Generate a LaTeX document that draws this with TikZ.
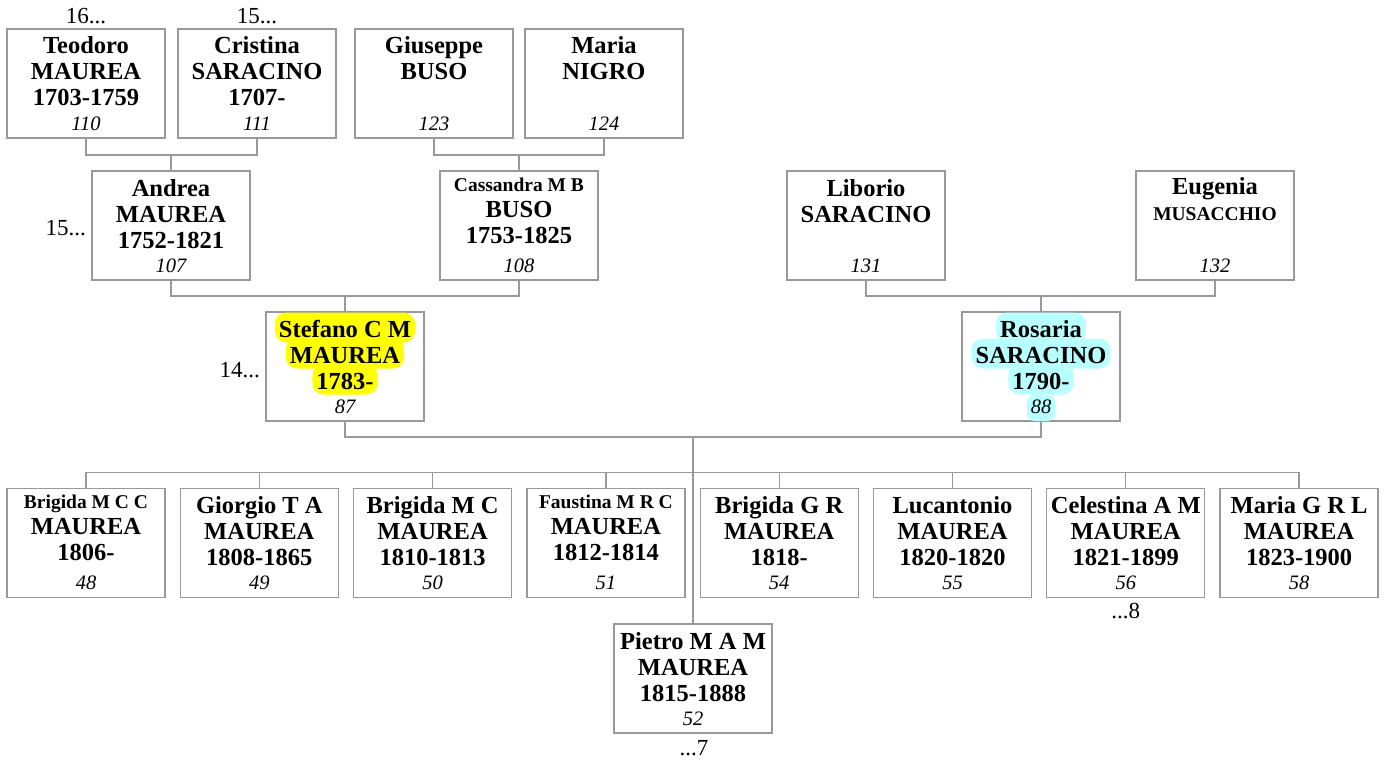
\documentclass[tikz,border=0pt]{standalone}
\usepackage{fontspec}
\setmainfont{Liberation Serif}
\definecolor{lc}{HTML}{999999}
\definecolor{hlcyan}{HTML}{B8FFFF}
\definecolor{hlyellow}{HTML}{FFFF00}
\newcommand\sm{\fontsize{19.5}{22}\selectfont\bfseries}
\newcommand\person[8]{%
  \node[pbox] (#1) at (#2,#3+54.5) {};
  \node[ln] (#1-1) at (#2,#3+25+#4) {#5};
  \node[ln] (#1-2) at (#2,#3+51+#4) {#6};
  \node[ln] (#1-3) at (#2,#3+77+#4) {#7};
  \node[num] (#1-n) at (#2,#3+101.5) {#8};
}
\begin{document}
\begin{tikzpicture}[x=1pt,y=-1pt,
  pbox/.style={draw=lc,line width=1.3pt,minimum width=158pt,minimum height=109pt,inner sep=0pt},
  ln/.style={anchor=base,inner sep=0pt,font=\fontsize{24.5}{27}\selectfont\bfseries},
  num/.style={anchor=base,inner sep=0pt,font=\fontsize{20.5}{23}\selectfont\itshape},
  gen/.style={inner sep=0pt,font=\fontsize{23}{25}\selectfont},
  hl/.style={rounded corners=11pt,inner xsep=4pt,inner ysep=2.5pt,text height=22pt,text depth=3pt},
  conn/.style={draw=lc,line width=1.3pt}]
\useasboundingbox (0,0) rectangle (1385,760);

% generation 1
\person{teo}{86}{29}{0}{Teodoro}{MAUREA}{1703-1759}{110}
\person{cri}{257}{29}{0}{Cristina}{SARACINO}{1707-}{111}
\person{giu}{434}{29}{0}{Giuseppe}{BUSO}{}{123}
\person{mar}{604}{29}{0}{Maria}{NIGRO}{}{124}
\node[gen,anchor=base] (g16) at (86,24) {16...};
\node[gen,anchor=base] (g15a) at (257,24) {15...};

% generation 2
\person{and}{171}{171}{0}{Andrea}{MAUREA}{1752-1821}{107}
\person{cas}{519}{171}{-5}{{\sm Cassandra M B}}{BUSO}{1753-1825}{108}
\person{lib}{866}{171}{0}{Liborio}{SARACINO}{}{131}
\person{eug}{1215}{171}{-2}{Eugenia}{{\sm MUSACCHIO}}{}{132}
\node[gen,anchor=base east] (g15b) at (86,235) {15...};

% generation 3 (highlighted)
\node[pbox] (ste) at (345,312+54.5) {};
\node[ln,hl,fill=hlyellow] (ste-1) at (345,337) {Stefano C M};
\node[ln,hl,fill=hlyellow] (ste-2) at (345,363) {MAUREA};
\node[ln,hl,fill=hlyellow] (ste-3) at (345,389) {1783-};
\node[num] (ste-n) at (345,413.5) {87};
\node[gen,anchor=base east] (g14) at (260,377) {14...};

\node[pbox] (ros) at (1041,312+54.5) {};
\node[ln,hl,fill=hlcyan] (ros-1) at (1041,337) {Rosaria};
\node[ln,hl,fill=hlcyan] (ros-2) at (1041,363) {SARACINO};
\node[ln,hl,fill=hlcyan] (ros-3) at (1041,389) {1790-};
\node[num,hl,fill=hlcyan,text height=16pt,text depth=5pt,inner xsep=4pt,rounded corners=8pt] (ros-n) at (1041,413.5) {88};

% children
\person{c1}{86}{488.3}{-4.5}{{\sm Brigida M C C}}{MAUREA}{1806-}{48}
\person{c2}{259.3}{488.3}{0}{Giorgio T A}{MAUREA}{1808-1865}{49}
\person{c3}{432.6}{488.3}{0}{Brigida M C}{MAUREA}{1810-1813}{50}
\person{c4}{605.9}{488.3}{-4.5}{{\sm Faustina M R C}}{MAUREA}{1812-1814}{51}
\person{c5}{779.2}{488.3}{0}{Brigida G R}{MAUREA}{1818-}{54}
\person{c6}{952.5}{488.3}{0}{Lucantonio}{MAUREA}{1820-1820}{55}
\person{c7}{1125.8}{488.3}{0}{Celestina A M}{MAUREA}{1821-1899}{56}
\person{c8}{1299.1}{488.3}{0}{Maria G R L}{MAUREA}{1823-1900}{58}
\person{pie}{693}{624}{0}{Pietro M A M}{MAUREA}{1815-1888}{52}
\node[gen,anchor=base] (d8) at (1125.8,618) {...8};
\node[gen,anchor=base] (d7) at (694,755) {...7};

% connectors
\coordinate (j1) at (171,155);
\coordinate (j2) at (519,155);
\coordinate (j3) at (345,296);
\coordinate (j4) at (1041,296);
\coordinate (j5) at (693,437);
\coordinate (bar) at (693,472.7);
\draw[conn] (teo.south) |- (j1) -| (cri.south);
\draw[conn] (j1) -- (and.north);
\draw[conn] (giu.south) |- (j2) -| (mar.south);
\draw[conn] (j2) -- (cas.north);
\draw[conn] (and.south) |- (j3) -| (cas.south);
\draw[conn] (j3) -- (ste.north);
\draw[conn] (lib.south) |- (j4) -| (eug.south);
\draw[conn] (j4) -- (ros.north);
\draw[conn] (ste.south) |- (j5) -| (ros.south);
\draw[conn] (j5) -- (pie.north);
\draw[conn] (c1.north) |- (bar) -| (c8.north);
\foreach \c in {c2,c3,c4,c5,c6,c7} {
  \draw[conn] (\c.north) -- (\c.north |- bar);
}
\end{tikzpicture}
\end{document}
